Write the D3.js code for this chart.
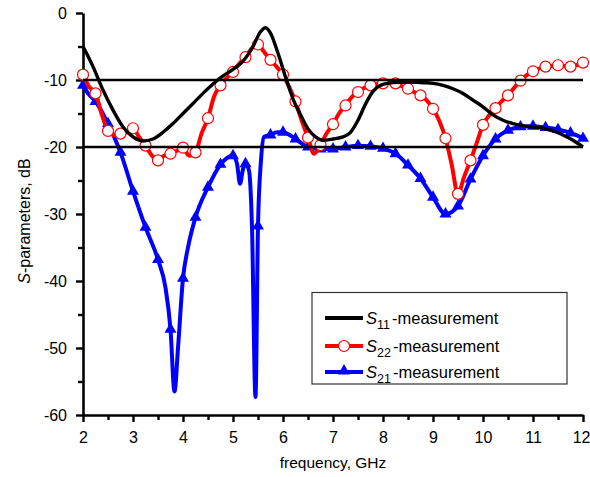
<!DOCTYPE html>
<html>
<head>
<meta charset="utf-8">
<script src="https://cdn.jsdelivr.net/npm/d3@7"></script>
<style>
  html, body { margin: 0; padding: 0; background: #fff; }
  svg { display: block; font-family: "Liberation Sans", Arial, sans-serif; }
</style>
</head>
<body>
<svg id="chart" width="590" height="477"></svg>
<script>
// ---------- data ----------
const xTicks = [2, 3, 4, 5, 6, 7, 8, 9, 10, 11, 12];
const yTicks = [0, -10, -20, -30, -40, -50, -60];
const refLevels = [-10, -20];

const freqS11 = [2.0, 2.2, 2.4, 2.6, 2.8, 3.0, 3.2, 3.4, 3.6, 3.8, 4.0, 4.2, 4.4, 4.6, 4.8, 5.0, 5.2, 5.4, 5.55, 5.65, 5.75, 5.9, 6.07, 6.2, 6.35, 6.5, 6.65, 6.8, 7.0, 7.2, 7.35, 7.5, 7.65, 7.8, 7.95, 8.2, 8.5, 8.8, 9.0, 9.2, 9.4, 9.6, 9.8, 10.0, 10.2, 10.4, 10.6, 10.8, 11.0, 11.2, 11.4, 11.6, 11.8, 12.0];
const s11 = [-5, -8, -11.5, -14.5, -17, -18.5, -19.1, -18.8, -17.8, -16.5, -15, -13.5, -12, -10.6, -9.4, -8.4, -7.2, -5, -2.8, -2.2, -3, -6, -10, -12.8, -15.2, -17.3, -18.5, -19, -18.8, -18.5, -17.8, -16, -13.6, -11.7, -10.8, -10.4, -10.3, -10.4, -10.5, -10.8, -11.3, -12, -13, -14, -15.2, -16, -16.5, -16.8, -17, -17.2, -17.6, -18.2, -19, -20];

const freqS22 = [2.0, 2.12, 2.25, 2.37, 2.5, 2.62, 2.75, 2.87, 3.0, 3.12, 3.25, 3.37, 3.5, 3.62, 3.75, 3.87, 4.0, 4.12, 4.25, 4.37, 4.5, 4.62, 4.75, 4.87, 5.0, 5.12, 5.25, 5.37, 5.5, 5.62, 5.75, 5.87, 6.0, 6.12, 6.25, 6.37, 6.5, 6.62, 6.75, 6.87, 7.0, 7.12, 7.25, 7.37, 7.5, 7.62, 7.75, 7.87, 8.0, 8.12, 8.25, 8.37, 8.5, 8.62, 8.75, 8.87, 9.0, 9.12, 9.25, 9.37, 9.5, 9.62, 9.75, 9.87, 10.0, 10.12, 10.25, 10.37, 10.5, 10.62, 10.75, 10.87, 11.0, 11.12, 11.25, 11.37, 11.5, 11.62, 11.75, 11.87, 12.0];
const s22 = [-9.2, -11, -12, -15, -17.6, -18.2, -18, -17.8, -17.2, -18.5, -19.8, -21.2, -22, -21.3, -21, -20.6, -20.1, -21.3, -20.8, -18, -15.7, -12.5, -10.8, -9.7, -8.8, -7.6, -6.6, -5.3, -4.7, -5.8, -7, -8, -9.2, -11, -13.2, -16, -18.6, -21, -19.7, -18, -16.6, -15, -13.8, -12.6, -11.8, -11.2, -10.8, -10.6, -10.5, -10.4, -10.5, -10.9, -11.3, -11.8, -12.3, -13, -14.3, -16, -18.7, -22.5, -27, -24.5, -22, -19.5, -16.7, -15.3, -14.2, -13.2, -12.3, -11.2, -10.1, -9.3, -8.7, -8.3, -8, -7.9, -7.8, -7.9, -8, -7.8, -7.4];

const freqS21 = [2.0, 2.1, 2.25, 2.5, 2.75, 3.0, 3.25, 3.5, 3.65, 3.75, 3.83, 3.9, 4.0, 4.1, 4.25, 4.5, 4.75, 5.0, 5.08, 5.14, 5.2, 5.25, 5.32, 5.38, 5.45, 5.5, 5.56, 5.62, 5.75, 5.88, 6.0, 6.25, 6.5, 6.75, 7.0, 7.25, 7.5, 7.75, 8.0, 8.25, 8.5, 8.75, 9.0, 9.25, 9.5, 9.75, 10.0, 10.25, 10.5, 10.75, 11.0, 11.25, 11.5, 11.75, 12.0];
const s21 = [-10.8, -12, -13.2, -16.5, -20.8, -26.6, -32, -36.8, -41, -47.2, -56.5, -50, -39.6, -35, -30.5, -26, -22.6, -21.3, -22.5, -25.5, -23.3, -22.5, -23.5, -32, -57.3, -31.8, -22, -18.5, -18.2, -17.8, -17.8, -18.8, -20, -20.3, -20.3, -20, -19.8, -19.9, -20.2, -21, -22.7, -24.7, -27.5, -30, -28.8, -24.8, -21.3, -18.8, -17.5, -17, -16.9, -17.1, -17.4, -17.9, -18.7];

const seriesNames = ["11", "22", "21"];

// ---------- layout ----------
const svg = d3.select("#chart");
const mLeft = 83, mRight = 583, mTop = 13, mBottom = 415;

const x = d3.scaleLinear().domain([2, 12]).range([mLeft, mRight]);
const y = d3.scaleLinear().domain([-60, 0]).range([mBottom, mTop]);

const isMarker = f => Math.abs(f * 4 - Math.round(f * 4)) < 0.001;
const zip = (fs, vs) => fs.map((f, i) => ({ f, v: vs[i] }));

const line = d3.line().x(d => x(d.f)).y(d => y(d.v)).curve(d3.curveMonotoneX);

// ---------- axes ----------
const fontSize = 16;
const minorX = d3.range(2.5, 12, 1);
const minorY = d3.range(-55, 0, 10);

const gx = svg.append("g").attr("transform", `translate(0,${mBottom})`)
  .call(d3.axisBottom(x).tickValues(xTicks).tickFormat(d3.format("d")).tickSize(7).tickSizeOuter(0).tickPadding(10));
const gxm = svg.append("g").attr("transform", `translate(0,${mBottom})`)
  .call(d3.axisBottom(x).tickValues(minorX).tickFormat("").tickSize(5).tickSizeOuter(0));
const gy = svg.append("g").attr("transform", `translate(${mLeft},0)`)
  .call(d3.axisLeft(y).tickValues(yTicks).tickFormat(d3.format("d")).tickSize(7).tickSizeOuter(0).tickPadding(9));
const gym = svg.append("g").attr("transform", `translate(${mLeft},0)`)
  .call(d3.axisLeft(y).tickValues(minorY).tickFormat("").tickSize(5).tickSizeOuter(0));

[gx, gxm, gy, gym].forEach(g => {
  g.select(".domain").attr("stroke", "#000").attr("stroke-width", 2.6);
  g.selectAll(".tick line").attr("stroke", "#000").attr("stroke-width", 2.4);
  g.selectAll(".tick text").attr("fill", "#000").style("font-size", fontSize + "px")
    .style("font-family", "'Liberation Sans', Arial, sans-serif");
});
gym.select(".domain").remove();
gxm.select(".domain").remove();
gy.selectAll(".tick text").text(d => d === 0 ? "0" : "-" + Math.abs(d));
// keep the last x label inside the picture
gx.selectAll(".tick text").filter(d => d === 12).attr("text-anchor", "end").attr("x", 7);

// axis titles
svg.append("text")
  .attr("x", (mLeft + mRight) / 2).attr("y", 468)
  .attr("text-anchor", "middle")
  .style("font-size", "15.5px")
  .text("frequency, GHz");

const yt = svg.append("text")
  .attr("transform", `translate(30,221) rotate(-90)`)
  .attr("text-anchor", "middle")
  .style("font-size", "16px");
yt.append("tspan").style("font-style", "italic").text("S");
yt.append("tspan").text("-parameters, dB");

// ---------- series ----------
const d11 = zip(freqS11, s11);
const d22 = zip(freqS22, s22);
const d21 = zip(freqS21, s21);

svg.append("path").datum(d21).attr("d", line)
  .attr("fill", "none").attr("stroke", "#0000ff").attr("stroke-width", 4).attr("stroke-linejoin", "round");
svg.append("g").selectAll("path").data(d21.filter(d => isMarker(d.f))).join("path")
  .attr("d", d3.symbol(d3.symbolTriangle, 62))
  .attr("transform", d => `translate(${x(d.f)},${y(d.v)})`)
  .attr("fill", "#0000ff");

svg.append("path").datum(d22).attr("d", line)
  .attr("fill", "none").attr("stroke", "#ff0000").attr("stroke-width", 4).attr("stroke-linejoin", "round");
svg.append("g").selectAll("circle").data(d22.filter(d => isMarker(d.f))).join("circle")
  .attr("cx", d => x(d.f)).attr("cy", d => y(d.v)).attr("r", 5.5)
  .attr("fill", "#fff").attr("stroke", "#ff0000").attr("stroke-width", 1.2);

svg.append("path").datum(d11).attr("d", line)
  .attr("fill", "none").attr("stroke", "#000").attr("stroke-width", 3.4).attr("stroke-linejoin", "round");

// reference lines
svg.append("g").selectAll("line").data(refLevels).join("line")
  .attr("x1", x(2)).attr("x2", x(12))
  .attr("y1", d => y(d)).attr("y2", d => y(d))
  .attr("stroke", "#000").attr("stroke-width", 2.6);

// ---------- legend ----------
const lg = svg.append("g");
lg.append("rect").attr("x", 312).attr("y", 292.5).attr("width", 255).attr("height", 91.5)
  .attr("fill", "#fff").attr("stroke", "#333").attr("stroke-width", 1.2);
const legendColors = ["#000", "#ff0000", "#0000ff"];
const legendY = [318, 346, 372];
seriesNames.forEach((name, i) => {
  const yy = legendY[i];
  lg.append("line").attr("x1", 325).attr("x2", 363).attr("y1", yy).attr("y2", yy)
    .attr("stroke", legendColors[i]).attr("stroke-width", 4);
  if (i === 1) {
    lg.append("circle").attr("cx", 344).attr("cy", yy).attr("r", 5.5)
      .attr("fill", "#fff").attr("stroke", "#ff0000").attr("stroke-width", 1.2);
  }
  if (i === 2) {
    lg.append("path").attr("d", d3.symbol(d3.symbolTriangle, 62)())
      .attr("transform", `translate(344,${yy - 1})`).attr("fill", "#0000ff");
  }
  const t = lg.append("text").attr("x", 366).attr("y", yy + 6).style("font-size", "16.5px");
  t.append("tspan").style("font-style", "italic").text("S");
  t.append("tspan").attr("dy", 5).style("font-size", "12.5px").text(name);
  t.append("tspan").attr("dy", -5).attr("dx", 2).text("-measurement");
});
</script>
</body>
</html>
